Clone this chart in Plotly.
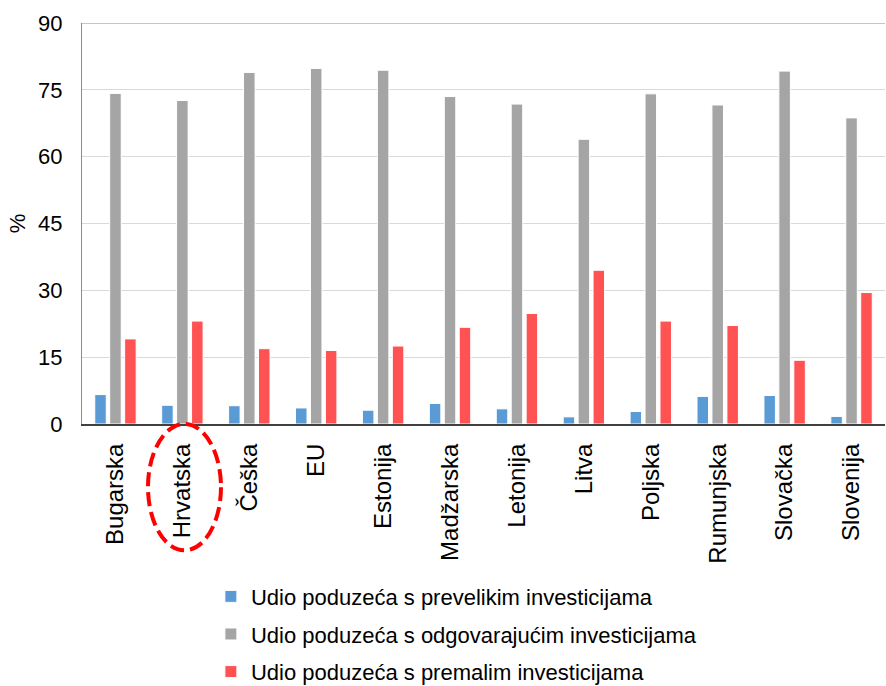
import plotly.graph_objects as go

categories = ["Bugarska", "Hrvatska", "Češka", "EU", "Estonija", "Madžarska",
              "Letonija", "Litva", "Poljska", "Rumunjska", "Slovačka", "Slovenija"]
preveliko = [6.6, 4.2, 4.1, 3.6, 3.1, 4.6, 3.4, 1.6, 2.8, 6.2, 6.4, 1.7]
odgovarajuce = [74.2, 72.6, 78.9, 79.8, 79.4, 73.5, 71.8, 63.9, 74.1, 71.6, 79.2, 68.7]
premalo = [19.1, 23.1, 16.9, 16.5, 17.5, 21.7, 24.8, 34.5, 23.1, 22.1, 14.3, 29.5]
series_names = ["Udio poduzeća s prevelikim investicijama",
                "Udio poduzeća s odgovarajućim investicijama",
                "Udio poduzeća s premalim investicijama"]
colors = ["#5B9BD5", "#A5A5A5", "#FF5252"]
y_ticks = [0, 15, 30, 45, 60, 75, 90]

FONT = "Liberation Sans, Arial, sans-serif"

fig = go.Figure()
for i, (name, vals) in enumerate(zip(series_names, [preveliko, odgovarajuce, premalo])):
    fig.add_trace(go.Bar(
        x=categories, y=vals, name=name, legendgroup=f"g{i}",
        marker=dict(color=colors[i], line=dict(color="white", width=1)),
    ))

fig.update_layout(
    width=886, height=686,
    margin=dict(l=82, r=1, t=23, b=262, autoexpand=False),
    paper_bgcolor="white", plot_bgcolor="white",
    barmode="group", bargap=0.33, bargroupgap=0.23,
    font=dict(family=FONT, size=22, color="#000000"),
    showlegend=True,
    legend=dict(
        orientation="v", x=0.1605, xanchor="left", y=-0.378, yanchor="top",
        traceorder="grouped", tracegroupgap=6,
        font=dict(family=FONT, size=22, color="#000000"),
        bgcolor="rgba(0,0,0,0)",
    ),
)

fig.update_xaxes(
    type="category", tickangle=-90, showgrid=False, automargin=False,
    showline=True, linecolor="#404040", linewidth=2,
    ticks="", tickfont=dict(family=FONT, size=24, color="#000000"),
    ticklabelstandoff=8,
)
fig.update_yaxes(
    range=[0, 90], tickvals=y_ticks, showgrid=True, gridcolor="#D9D9D9", gridwidth=1,
    showline=True, linecolor="#8C8C8C", linewidth=1, zeroline=False, automargin=False,
    ticks="", tickfont=dict(family=FONT, size=22, color="#000000"),
    ticklabelstandoff=14,
    title=dict(text="%", font=dict(family=FONT, size=22, color="#000000"), standoff=6),
)

# top border line at 90
fig.add_shape(type="line", xref="paper", yref="y", x0=0, x1=1, y0=90, y1=90,
              line=dict(color="#8C8C8C", width=1))
# highlight ellipse around Hrvatska
fig.add_shape(type="circle", xref="x", yref="paper",
              x0=0.486, x1=1.577, y0=0.0, y1=-0.315,
              line=dict(color="#FF0000", width=4, dash="14px,6px"))

fig.write_html("out.html", config={"displayModeBar": False},
               post_script="document.body.style.margin='0';")
